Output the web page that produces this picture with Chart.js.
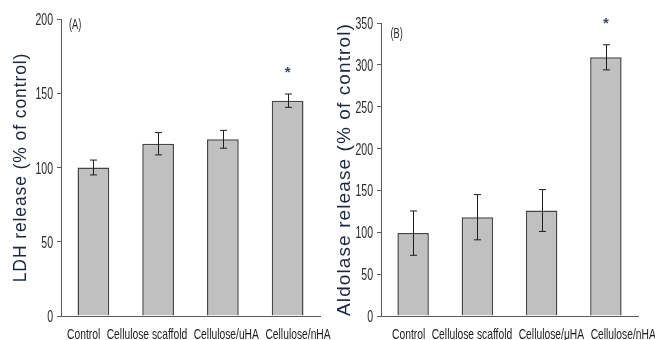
<!DOCTYPE html>
<html>
<head>
<meta charset="utf-8">
<script src="https://cdn.jsdelivr.net/npm/chart.js@4.4.1/dist/chart.umd.min.js"></script>
<style>
  html, body { margin: 0; padding: 0; background: #fff; }
  #wrap { position: relative; width: 655px; height: 340px; overflow: hidden; }
  canvas { position: absolute; top: 0; }
  #chartA { left: 0; }
  #chartB { left: 327px; }
</style>
</head>
<body>
<div id="wrap">
  <canvas id="chartA" width="345" height="340"></canvas>
  <canvas id="chartB" width="328" height="340"></canvas>
</div>
<script>
(function() {

  // categories (panel B uses the micro sign in its label)
  var categoriesA = ['Control', 'Cellulose scaffold', 'Cellulose/uHA', 'Cellulose/nHA'];
  var categoriesB = ['Control', 'Cellulose scaffold', 'Cellulose/\u03bcHA', 'Cellulose/nHA'];

  // LDH release, % of control
  var ldhMeans = [100, 116, 119, 145];
  var ldhErrors = [5, 7.5, 6, 4.5];
  var ldhStars = [false, false, false, true];

  // Aldolase release, % of control
  var aldoMeans = [99, 118, 126, 309];
  var aldoErrors = [26.5, 27, 25, 15];
  var aldoStars = [false, false, false, true];

  var ldhTicks = [0, 50, 100, 150, 200];
  var aldoTicks = [0, 50, 100, 150, 200, 250, 300, 350];

  var SANS = "'Liberation Sans', Arial, sans-serif";
  var axisColour = '#5a5a5a';

  // the source figure was squeezed sideways, so its small text is narrow
  function narrowText(ctx, text, x, y, size, squeeze, align, colour) {
    ctx.save();
    ctx.letterSpacing = '0px';
    ctx.font = size + 'px ' + SANS;
    ctx.fillStyle = colour;
    ctx.textAlign = align;
    ctx.textBaseline = 'alphabetic';
    ctx.translate(x, y);
    ctx.scale(squeeze, 1);
    ctx.fillText(text, 0, 0);
    ctx.restore();
  }

  function textWidth(ctx, text, size, squeeze) {
    ctx.save();
    ctx.letterSpacing = '0px';
    ctx.font = size + 'px ' + SANS;
    var w = ctx.measureText(text).width * squeeze;
    ctx.restore();
    return w;
  }

  // error bars, stars, narrow tick labels and the panel letter
  var extrasPlugin = {
    id: 'extras',
    beforeDraw: function(chart, args, opts) {
      // the axis title in the original is spaced out
      chart.ctx.letterSpacing = opts.titleSpacing;
    },
    afterDatasetsDraw: function(chart, args, opts) {
      var ctx = chart.ctx;
      var meta = chart.getDatasetMeta(0);
      var yScale = chart.scales.y;
      var means = chart.data.datasets[0].data;
      ctx.save();
      ctx.letterSpacing = '0px';
      ctx.strokeStyle = '#1e1e1e';
      ctx.lineWidth = 1;
      meta.data.forEach(function(bar, i) {
        var top = yScale.getPixelForValue(means[i] + opts.errors[i]);
        var bottom = yScale.getPixelForValue(means[i] - opts.errors[i]);
        var x = Math.round(bar.x) + 0.5;
        ctx.beginPath();
        ctx.moveTo(x, top); ctx.lineTo(x, bottom);
        ctx.moveTo(x - 3.5, top); ctx.lineTo(x + 3.5, top);
        ctx.moveTo(x - 3.5, bottom); ctx.lineTo(x + 3.5, bottom);
        ctx.stroke();
        if (opts.stars[i]) {
          ctx.fillStyle = '#3b4868';
          ctx.font = 'bold 15px ' + SANS;
          ctx.textAlign = 'center';
          ctx.textBaseline = 'middle';
          ctx.fillText('*', bar.x, top - 21);
        }
      });
      ctx.restore();
    },
    afterDraw: function(chart, args, opts) {
      var ctx = chart.ctx;
      var area = chart.chartArea;
      var yScale = chart.scales.y;

      // y tick labels, right aligned just left of the tick marks
      yScale.ticks.forEach(function(t) {
        var py = yScale.getPixelForValue(t.value);
        narrowText(ctx, String(t.value), area.left - 8, py + 6, 16.5, 0.64, 'right', '#2a2a2a');
      });

      // category labels run on one line like in the original
      var size = 14.5, squeeze = 0.71, gap = 6.5;
      var x = area.left + opts.labelStart;
      chart.data.labels.forEach(function(label) {
        narrowText(ctx, label, x, area.bottom + 22.5, size, squeeze, 'left', '#1a1a1a');
        x += textWidth(ctx, label, size, squeeze) + gap;
      });

      narrowText(ctx, opts.panel, area.left + opts.panelDx, area.top + opts.panelDy, 14, 0.66, 'left', '#2a2a2a');
      ctx.letterSpacing = '0px';
    }
  };

  function makeChart(id, labels, means, errors, stars, ticks, max, title, sizes) {
    return new Chart(document.getElementById(id), {
      type: 'bar',
      data: {
        labels: labels,
        datasets: [{
          data: means,
          backgroundColor: '#c0c0c0',
          borderColor: '#454545',
          borderWidth: {top: 1.5, left: 1.5, right: 1.5, bottom: 0},
          borderSkipped: 'bottom',
          barPercentage: 0.49,
          categoryPercentage: 1
        }]
      },
      options: {
        responsive: false,
        animation: false,
        layout: {padding: {top: sizes.top, right: sizes.right, left: 0, bottom: 0}},
        plugins: {
          legend: {display: false},
          tooltip: {enabled: false},
          extras: {
            errors: errors, stars: stars, panel: sizes.panel,
            panelDx: sizes.panelDx, panelDy: sizes.panelDy, labelStart: sizes.labelStart,
            titleSpacing: sizes.titleSpacing
          }
        },
        scales: {
          x: {
            grid: {display: false, drawTicks: false},
            border: {display: true, color: axisColour, width: 1},
            ticks: {display: false},
            afterFit: function(scale) { scale.height = 24; }
          },
          y: {
            min: 0,
            max: max,
            afterBuildTicks: function(scale) {
              scale.ticks = ticks.map(function(v) { return {value: v}; });
            },
            grid: {drawOnChartArea: false, drawTicks: true, tickLength: 4, color: axisColour},
            border: {display: true, color: axisColour, width: 1},
            ticks: {display: false},
            title: {
              display: true,
              text: title,
              color: '#1c2540',
              font: {family: SANS, size: sizes.titleSize},
              padding: {top: sizes.titlePad, bottom: 0}
            },
            afterFit: function(scale) { scale.width = sizes.yWidth; }
          }
        }
      },
      plugins: [extrasPlugin]
    });
  }

  makeChart('chartA', categoriesA, ldhMeans, ldhErrors, ldhStars, ldhTicks, 200,
    'LDH release (% of control)',
    {top: 19, right: 25, yWidth: 61, panel: '(A)', panelDx: 8, panelDy: 10,
     labelStart: 6, titleSize: 17.5, titlePad: 11, titleSpacing: '0.9px'});

  makeChart('chartB', categoriesB, aldoMeans, aldoErrors, aldoStars, aldoTicks, 350,
    'Aldolase release (% of control)',
    {top: 23, right: 17, yWidth: 54, panel: '(B)', panelDx: 9.5, panelDy: 15,
     labelStart: 11, titleSize: 19, titlePad: 6, titleSpacing: '1.1px'});

}());
</script>
</body>
</html>
